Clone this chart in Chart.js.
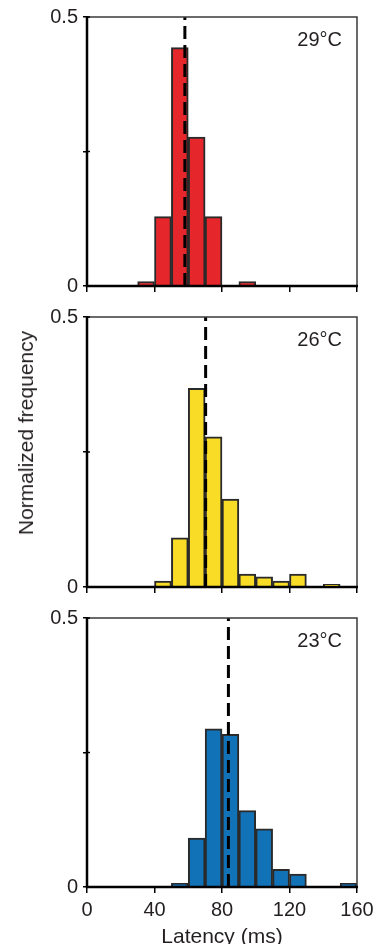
<!DOCTYPE html>
<html><head><meta charset="utf-8">
<script src="https://cdn.jsdelivr.net/npm/chart.js@4"></script>
<style>
html,body{margin:0;padding:0;background:#fff;}
body{width:376px;height:944px;position:relative;overflow:hidden;font-family:"Liberation Sans",Arial,sans-serif;}
canvas{position:absolute;left:0;}
#ytitle{position:absolute;left:26px;top:433px;transform:translate(-50%,-50%) rotate(-90deg);white-space:nowrap;font-size:21px;color:#231f20;}
</style></head><body>
<canvas id="c1" width="376" height="300" style="top:0;width:376px;height:300px"></canvas>
<canvas id="c2" width="376" height="300" style="top:300px;width:376px;height:300px"></canvas>
<canvas id="c3" width="376" height="350" style="top:600px;width:376px;height:350px"></canvas>
<div id="ytitle">Normalized frequency</div>
<script>
// Latency bins (ms, 10 ms wide) – bin centres
const binCenters = [5,15,25,35,45,55,65,75,85,95,105,115,125,135,145,155];
// Normalized frequency per bin
const freq29 = [0,0,0,0.008,0.129,0.443,0.277,0.129,0,0.008,0,0,0,0,0,0];
const freq26 = [0,0,0,0,0.011,0.091,0.368,0.278,0.163,0.024,0.019,0.011,0.024,0,0.005,0];
const freq23 = [0,0,0,0,0,0.007,0.091,0.294,0.284,0.142,0.108,0.033,0.024,0,0,0.007];
// Mean latency (dashed line), ms
const meanLatency = [58, 70.3, 83.8];
const temps = ['29°C','26°C','23°C'];
const xTicks = [0,40,80,120,160];
const yTicks = [0,0.25,0.5];
const yLabels = {0:'0', 0.5:'0.5'};
const fills = ['#e5262b','#f9dc26','#1272b8'];

const TXT = '#231f20';
const FONT = '"Liberation Sans", Arial, sans-serif';

const framePlugin = {
  id:'frame',
  afterDatasetsDraw(chart, args, opts){
    const {ctx, chartArea:{left,right,top,bottom}, scales:{y}} = chart;
    ctx.save();
    ctx.strokeStyle = '#3a3a3a'; ctx.lineWidth = 1.5;
    ctx.beginPath(); ctx.moveTo(left, top); ctx.lineTo(right, top); ctx.lineTo(right, bottom); ctx.stroke();
    ctx.strokeStyle = '#000'; ctx.lineWidth = 2.5;
    ctx.beginPath(); ctx.moveTo(left, top-1); ctx.lineTo(left, bottom); ctx.lineTo(right+1, bottom); ctx.stroke();
    ctx.lineWidth = 1.5;
    y.ticks.forEach(t => {
      const py = y.getPixelForValue(t.value);
      ctx.beginPath(); ctx.moveTo(left, py); ctx.lineTo(left+3, py); ctx.stroke();
    });
    ctx.fillStyle = TXT; ctx.font = '20px ' + FONT;
    ctx.textAlign = 'right'; ctx.textBaseline = 'alphabetic';
    ctx.fillText(opts.label, right-15, top+29);
    ctx.restore();
  }
};

const panels = [
  {id:'c1', data:freq29, padTop:17, xh:14, labels:false},
  {id:'c2', data:freq26, padTop:17, xh:13, labels:false},
  {id:'c3', data:freq23, padTop:18, xh:63, labels:true},
];

panels.forEach((p, i) => {
  new Chart(document.getElementById(p.id), {
    type:'bar',
    data:{
      datasets:[
        {type:'line', order:0, data:[{x:meanLatency[i], y:0},{x:meanLatency[i], y:0.5}],
         borderColor:'#000', borderWidth:3, borderDash:[13,6], pointRadius:0, fill:false},
        {type:'bar', order:1, data:binCenters.map((c,k)=>({x:c, y:p.data[k]})),
         backgroundColor:fills[i], borderColor:'#2a2a2a', borderWidth:2,
         barPercentage:1, categoryPercentage:1}
      ]
    },
    options:{
      responsive:false, animation:false, devicePixelRatio:1,
      layout:{padding:{top:p.padTop, right:19, left:0, bottom:0}},
      plugins:{legend:{display:false}, tooltip:{enabled:false}, frame:{label:temps[i]}},
      scales:{
        x:{type:'linear', min:0, max:160, offset:false,
           afterBuildTicks(s){ s.ticks = xTicks.map(v=>({value:v})); },
           afterFit(s){ s.height = p.xh; s.paddingLeft = 0; s.paddingRight = 0; },
           grid:{offset:false, drawOnChartArea:false, drawTicks:true, tickLength:6, color:'#000', lineWidth:1.5},
           border:{display:false},
           ticks:{callback: p.labels ? (v)=>String(v) : ()=>'', color:TXT, font:{family:FONT, size:20}, padding:5, maxRotation:0, autoSkip:false},
           title:{display:p.labels, text:'Latency (ms)', color:TXT, font:{family:FONT, size:21}, padding:{top:0, bottom:0}}
        },
        y:{min:0, max:0.5,
           afterBuildTicks(s){ s.ticks = yTicks.map(v=>({value:v})); },
           afterFit(s){ s.width = 87; s.paddingTop = 0; s.paddingBottom = 0; },
           grid:{drawOnChartArea:false, drawTicks:true, tickLength:4, color:'#000', lineWidth:1.5},
           border:{display:false},
           ticks:{callback:(v)=> (yLabels[v] !== undefined ? yLabels[v] : ''), color:TXT, font:{family:FONT, size:20}, padding:5, autoSkip:false}
        }
      }
    },
    plugins:[framePlugin]
  });
});
</script>
</body></html>
